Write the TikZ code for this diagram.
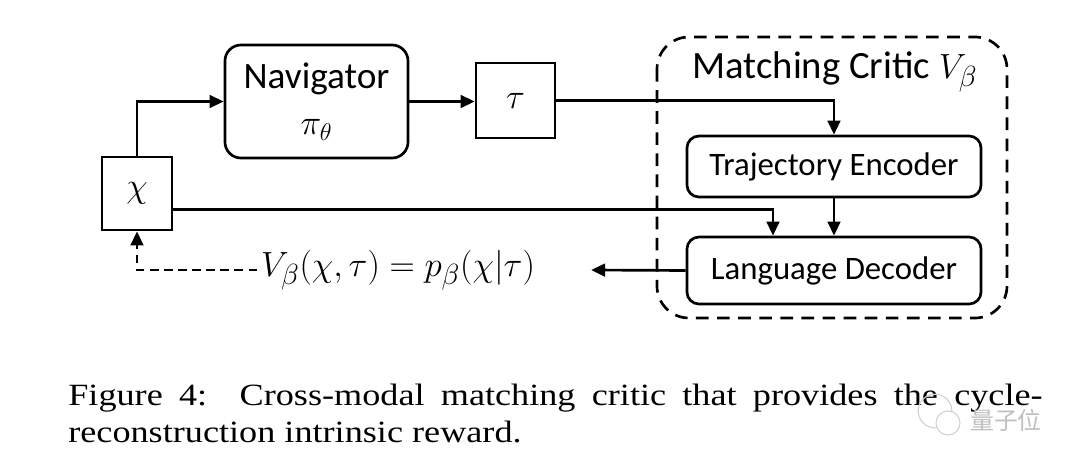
\documentclass[tikz,border=0pt]{standalone}
\usepackage{fontspec}
\setmainfont{Carlito}
\newfontfamily\capfont[FakeStretch=1.17]{Liberation Serif}
\newfontfamily\cjk{Noto Sans CJK SC}
\usetikzlibrary{arrows.meta}

\begin{document}
\begin{tikzpicture}[x=0.025cm, y=-0.025cm, line width=1.9pt,
                    >={Triangle[length=10pt,width=9pt]}]
\useasboundingbox (0,0) rectangle (1080,466);

% the critic frame
\draw [dash pattern=on 9pt off 6pt, rounded corners=0.8cm] (657,37) rectangle (1007,318);
\node (title) at (835,72) [font=\fontsize{27.5}{32}\selectfont] {Matching Critic $V_\beta$};

\begin{scope}[every node/.style={draw, inner sep=0pt, align=center}]
    \node (nav) at (316.5,101.5) [rounded corners=0.4cm, minimum width=4.575cm, minimum height=2.825cm,
                                  font=\fontsize{26.5}{33}\selectfont] {Navigator\\$\pi_\theta$};
    \node (tau) at (515.5,100.5) [minimum width=1.975cm, minimum height=1.875cm,
                                  font=\fontsize{28}{30}\selectfont] {$\tau$};
    \node (chi) at (137,193.5) [minimum width=1.75cm, minimum height=1.825cm,
                                font=\fontsize{28}{30}\selectfont] {$\chi$};

    \node (enc) at (834,166.5) [rounded corners=0.3cm, minimum width=7.35cm, minimum height=1.525cm,
                                font=\fontsize{23.3}{27}\selectfont] {Trajectory Encoder};
    \node (dec) at (834,270.5) [rounded corners=0.3cm, minimum width=7.35cm, minimum height=1.675cm,
                                font=\fontsize{23.3}{27}\selectfont] {Language Decoder};
\end{scope}

\node (reward) at (398,270) [inner sep=2pt, font=\fontsize{28}{32}\selectfont]
      {$V_\beta(\chi,\tau)=p_\beta(\chi|\tau)$};

\begin{scope}[every edge/.style={draw}]
    \path [->] (chi.north) edge [to path={|- (\tikztotarget)}] (nav.west);
    \path [->] (nav.east) edge (tau.west |- nav.east);
    \path [->] (tau.east) edge [to path={-| (\tikztotarget)}] (enc.north);
    \path [->] ([yshift=-0.4cm]chi.east) edge [to path={-| (\tikztotarget)}] ([xshift=-1.525cm]dec.north);
    \path [->] (enc.south) edge (dec.north);
    \path [->] (dec.west) edge ([xshift=1.3cm]reward.east);
    \path [->, dash pattern=on 6pt off 4pt] (reward.west) edge [to path={-| (\tikztotarget)}] (chi.south);
\end{scope}

\node (caption) at (67,383) [anchor=north west, inner sep=0pt, text width=24.35cm, align=justify,
                             font=\capfont\fontsize{22}{26.3}\selectfont]
      {Figure 4:\ \ Cross-modal matching critic that provides the cycle-\linebreak
       reconstruction intrinsic reward.};

% watermark
\node (mark) at (1006,420) [text=gray!50, font=\cjk\fontsize{17}{20}\selectfont] {量子位};
\draw [gray!35, line width=0.8pt] (935,411) circle [radius=0.42cm];
\draw [gray!35, line width=0.8pt, fill=white] (948,423) circle [radius=0.3cm];
\end{tikzpicture}
\end{document}
